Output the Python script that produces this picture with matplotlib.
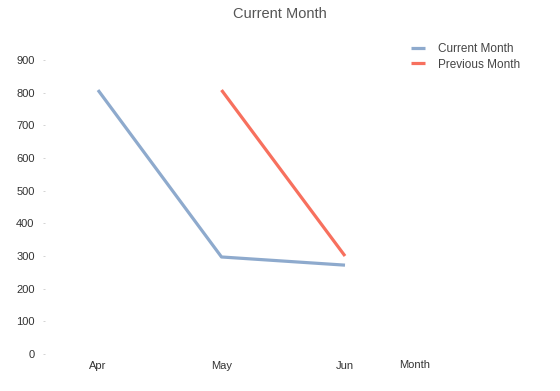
from matplotlib import pyplot as plt
import numpy as np

months = ["Apr", "May", "Jun"]
current_month = [808, 297, 272]
previous_month = [None, 808, 300]
y_ticks = [0, 100, 200, 300, 400, 500, 600, 700, 800, 900]

plt.rcParams['font.family'] = ['Liberation Sans', 'DejaVu Sans']

W, H = 560, 391
fig = plt.figure(figsize=(W / 100, H / 100), dpi=100)
# axes box in pixels: left 45, bottom at y=354, top at y=60
ax = fig.add_axes([45 / W, (H - 354) / H, (530 - 45) / W, (354 - 60) / H])

x = np.arange(len(months))
prev = np.array([np.nan if v is None else v for v in previous_month], dtype=float)

ax.plot(x, current_month, color="#8eaacd", lw=2.3, label="Current Month",
        solid_capstyle="butt")
ax.plot(x, prev, color="#f7705e", lw=2.3, label="Previous Month",
        solid_capstyle="butt")

# x positions: Apr at 98px, step ~123.5px
step = 123.5
left = -(98 - 45) / step
right = left + (530 - 45) / step
ax.set_xlim(left, right)
ax.set_ylim(0, 900)

ax.set_yticks(y_ticks)
ax.set_xticks(x)
ax.set_xticklabels(months)
for s in ax.spines.values():
    s.set_visible(False)
ax.tick_params(axis="y", length=1.5, width=0.6, color="#cccccc",
               labelsize=8, labelcolor="#333333", pad=6)
ax.tick_params(axis="x", length=0, labelsize=8, labelcolor="#333333", pad=5)

fig.text(415 / W, 1 - 365 / H, "Month", ha="center", va="center",
         fontsize=8, color="#333333")
fig.text(0.5, 1 - 14 / H, "Current Month", ha="center", va="center",
         fontsize=10.5, color="#555555")

leg = ax.legend(loc="upper left", frameon=False, fontsize=8.5,
                handlelength=1.15, handletextpad=1.1, labelspacing=0.3,
                labelcolor="#444444", borderaxespad=0, borderpad=0)
leg.set_bbox_to_anchor((411 / W, 1 - 43 / H), transform=fig.transFigure)

fig.savefig("out.png", dpi=100)
